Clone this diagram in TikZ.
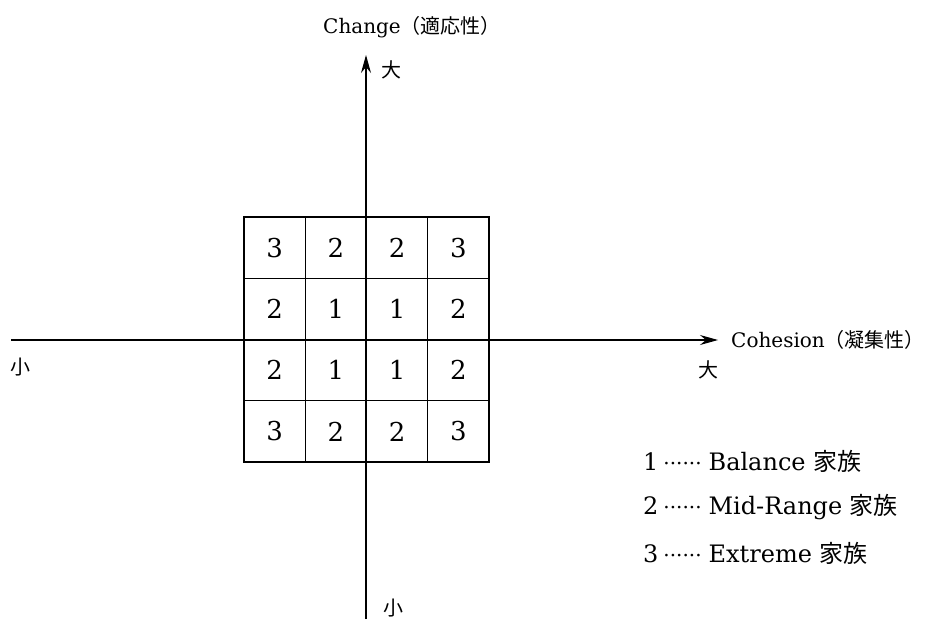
\documentclass[tikz,border=0pt]{standalone}
\usepackage{fontspec}
\setmainfont{DejaVu Serif}
\newfontfamily\cjk{Noto Sans CJK JP}
\usetikzlibrary{arrows.meta}
\tikzset{
  cellbox/.style={draw, line width=1.1pt, minimum width=61.25pt, minimum height=61.25pt, inner sep=0pt, font=\fontsize{26}{30}\selectfont},
  axisline/.style={line width=1.1pt, -{Stealth[length=18pt,width=10pt,inset=6pt]}},
  lbl/.style={inner sep=0pt, font=\fontsize{20}{24}\selectfont},
  leg/.style={inner sep=0pt, anchor=west, font=\fontsize{24}{28}\selectfont}
}
\newcommand{\legdots}{\hspace{5pt}{\fontsize{20}{24}\selectfont ······}\hspace{7pt}}
\begin{document}
\begin{tikzpicture}[x=1pt,y=-1pt]
\useasboundingbox (0,0) rectangle (933,619);
% grid
\foreach \r/\row in {1/{3,2,2,3},2/{2,1,1,2},3/{2,1,1,2},4/{3,2,2,3}} {
  \foreach \v [count=\c] in \row {
    \node[cellbox] (c\r\c) at ({244+61.25*(\c-0.5)},{217+61.25*(\r-0.5)}) {\v};
  }
}
% axes
\coordinate (vbot) at (366,619);
\coordinate (vtop) at (366,55);
\coordinate (hleft) at (11,340);
\coordinate (hright) at (718,340);
\draw[axisline] (vbot) -- (vtop);
\draw[axisline] (hleft) -- (hright);
% labels
\node[lbl, anchor=west] (chg) at (323,27) {Change{\cjk （適応性）}};
\node[lbl] (ybig) at (391,70) {\cjk 大};
\node[lbl] (ysmall) at (393,608) {\cjk 小};
\node[lbl] (xsmall) at (20,367) {\cjk 小};
\node[lbl] (xbig) at (708,370) {\cjk 大};
\node[lbl, anchor=west] (coh) at (731,340) {Cohesion{\cjk （凝集性）}};
% legend
\node[leg] (l1) at (643,461) {1\legdots Balance {\cjk 家族}};
\node[leg] (l2) at (643,507) {2\legdots Mid-Range {\cjk 家族}};
\node[leg] (l3) at (643,553) {3\legdots Extreme {\cjk 家族}};
\end{tikzpicture}
\end{document}
